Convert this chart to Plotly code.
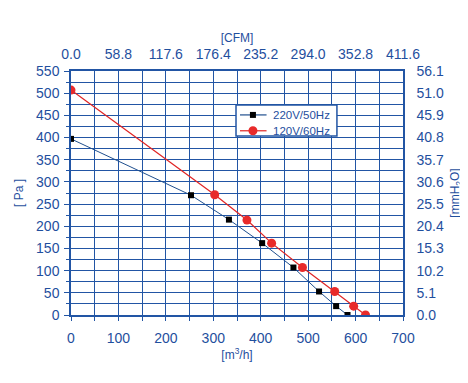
import plotly.graph_objects as go

# Data (m3/h, Pa)
flow_220 = [0, 253, 333, 403, 469, 523, 559, 583]
pres_220 = [397, 270, 215, 162, 107, 53, 20, 0]
flow_120 = [0, 303, 371, 423, 488, 556, 596, 621]
pres_120 = [507, 271, 214, 162, 107, 53, 20, 0]
series_names = ["220V/50Hz", "120V/60Hz"]

x_ticks = [0, 100, 200, 300, 400, 500, 600, 700]
cfm_labels = ["0.0", "58.8", "117.6", "176.4", "235.2", "294.0", "352.8", "411.6"]
y_ticks = [0, 50, 100, 150, 200, 250, 300, 350, 400, 450, 500, 550]
mmh2o_labels = ["0.0", "5.1", "10.2", "15.3", "20.4", "25.5", "30.6", "35.7", "40.8", "45.9", "51.0", "56.1"]

BLUE = "#1f4f9e"
GRID = "#2255a4"
LINE_220 = "#1f4f8e"
RED = "#e02424"
FONT = "Liberation Sans, Arial, sans-serif"

fig = go.Figure()
fig.add_trace(go.Scatter(x=flow_220, y=pres_220, mode="lines+markers", name=series_names[0],
                         line=dict(color=LINE_220, width=1),
                         marker=dict(symbol="square", color="black", size=6)))
fig.add_trace(go.Scatter(x=flow_120, y=pres_120, mode="lines+markers", name=series_names[1],
                         line=dict(color=RED, width=1.2),
                         marker=dict(symbol="circle", color="#e82a2a", size=9)))
# invisible trace for secondary axes
fig.add_trace(go.Scatter(x=[0], y=[0], xaxis="x2", yaxis="y2", mode="markers",
                         marker=dict(opacity=0), showlegend=False, hoverinfo="skip"))

axis_common = dict(showline=True, linecolor=GRID, linewidth=1.5, mirror=False, automargin=False,
                   tickfont=dict(family=FONT, size=14, color=BLUE), zeroline=False)

# manual legend box (paper coords)
shapes = [dict(type="rect", xref="paper", yref="paper", x0=0.497, x1=0.801, y0=0.734, y1=0.861,
               fillcolor="white", line=dict(color=GRID, width=1.5), layer="above")]
annotations = []
leg_rows = [(0.820, LINE_220, "black", "rect", 3), (0.755, RED, "#e82a2a", "circle", 4.5)]
for (yy, lc, mc, shp, half), name in zip(leg_rows, series_names):
    shapes.append(dict(type="line", xref="paper", yref="paper", x0=0.509, x1=0.589, y0=yy, y1=yy,
                       line=dict(color=lc, width=1.2), layer="above"))
    shapes.append(dict(type=shp, xref="paper", yref="paper", xsizemode="pixel", ysizemode="pixel",
                       xanchor=0.548, yanchor=yy, x0=-half, x1=half, y0=-half, y1=half,
                       fillcolor=mc, line=dict(color=mc, width=0), layer="above"))
    annotations.append(dict(xref="paper", yref="paper", x=0.601, y=yy, text=name, showarrow=False,
                            xanchor="left", yanchor="middle",
                            font=dict(family=FONT, size=11.5, color=BLUE)))

fig.update_layout(
    width=460, height=367,
    margin=dict(l=63, r=65, t=63, b=60),
    paper_bgcolor="white", plot_bgcolor="white",
    font=dict(family=FONT, color=BLUE),
    showlegend=False,
    shapes=shapes, annotations=annotations,
    xaxis=dict(range=[0, 700], tickvals=x_ticks, ticks="outside", ticklen=4, tickcolor=GRID,
               ticklabelstandoff=5,
               minor=dict(dtick=50, showgrid=True, gridcolor=GRID, gridwidth=1, ticks="outside", ticklen=4, tickcolor=GRID),
               showgrid=True, gridcolor=GRID, gridwidth=1,
               title=dict(text="[m<sup>3</sup>/h]", font=dict(size=12, color=BLUE), standoff=0),
               **axis_common),
    yaxis=dict(range=[0, 550], tickvals=y_ticks, ticks="outside", ticklen=5, tickcolor=GRID,
               ticklabelstandoff=2,
               minor=dict(dtick=25, showgrid=True, gridcolor=GRID, gridwidth=1, ticks="outside", ticklen=3, tickcolor=GRID),
               showgrid=True, gridcolor=GRID, gridwidth=1,
               title=dict(text="[ Pa ]", font=dict(size=12, color=BLUE), standoff=10),
               **axis_common),
    xaxis2=dict(range=[0, 700], overlaying="x", side="top", anchor="y", tickvals=x_ticks,
                ticktext=cfm_labels, showgrid=False, ticks="", ticklabelstandoff=5,
                title=dict(text="[CFM]", font=dict(size=12, color=BLUE), standoff=0),
                **axis_common),
    yaxis2=dict(range=[0, 550], overlaying="y", side="right", anchor="x", tickvals=y_ticks,
                ticktext=mmh2o_labels, showgrid=False, ticks="", ticklabelstandoff=9,
                title=dict(text="[mmH<sub>2</sub>O]", font=dict(size=12, color=BLUE), standoff=8),
                **axis_common),
)

fig.write_html("out.html")
